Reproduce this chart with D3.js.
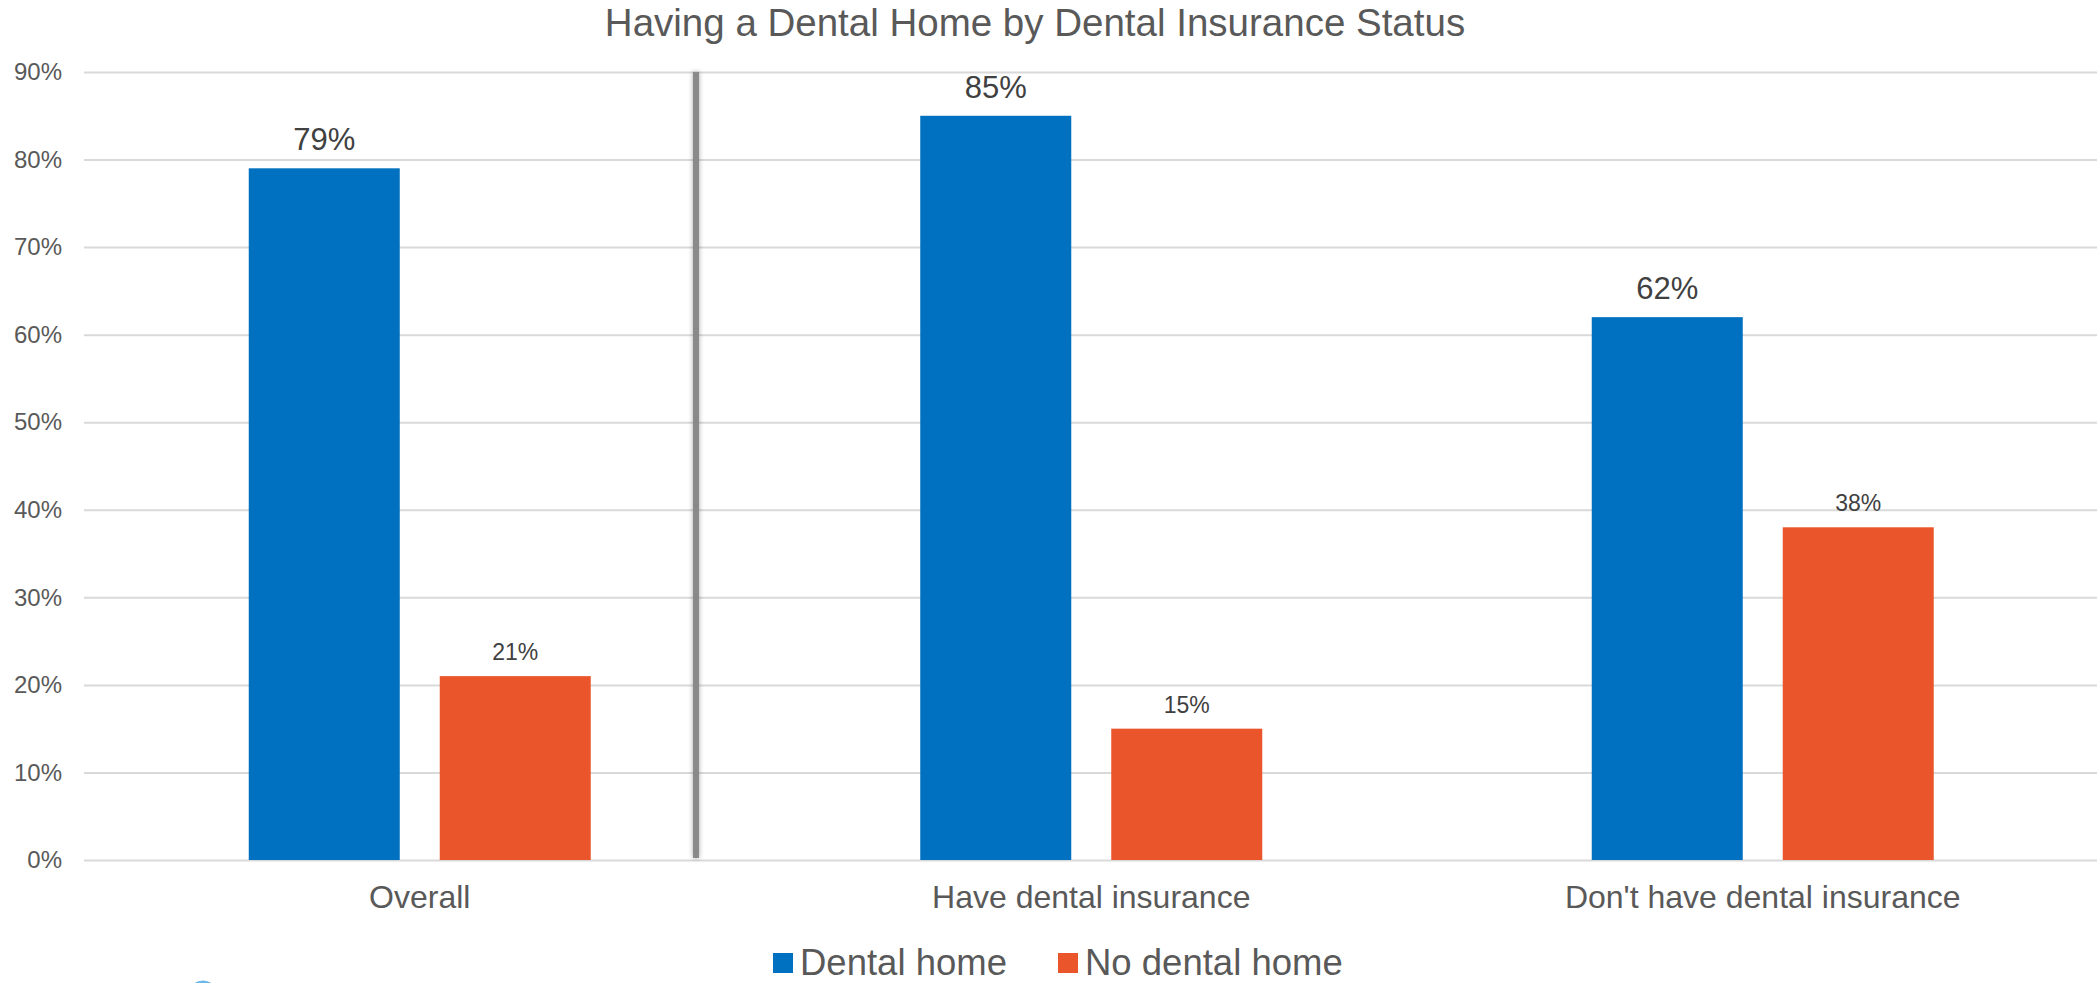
<!DOCTYPE html>
<html>
<head>
<meta charset="utf-8">
<script src="https://cdn.jsdelivr.net/npm/d3@7/dist/d3.min.js"></script>
<style>
  html, body { margin: 0; padding: 0; background: #ffffff; }
  svg { display: block; font-family: "Liberation Sans", Arial, sans-serif; }
</style>
</head>
<body>
<svg id="chart" width="2097" height="983"></svg>
<script>
// Chart data
const categories = ["Overall", "Have dental insurance", "Don't have dental insurance"];
const seriesNames = ["Dental home", "No dental home"];
const dentalHome = [0.79, 0.85, 0.62];
const noDentalHome = [0.21, 0.15, 0.38];
const yTicks = [0, 0.1, 0.2, 0.3, 0.4, 0.5, 0.6, 0.7, 0.8, 0.9];
const colors = ["#0070C0", "#EA552B"];
const titleText = "Having a Dental Home by Dental Insurance Status";

const svg = d3.select("#chart");
const W = 2097, H = 983;
const plot = { left: 84, right: 2098.5, top: 72, bottom: 860 };

const x0 = d3.scaleBand().domain(categories).range([plot.left, plot.right]).padding(0);
const groupW = 342;
const x1 = d3.scaleBand().domain(seriesNames).range([0, groupW]).paddingInner(0.2094).paddingOuter(0);
const y = d3.scaleLinear().domain([0, 0.9]).range([plot.bottom, plot.top]);
const fmt = d3.format(".0%");

// Title
svg.append("text")
  .attr("x", 1035).attr("y", 36)
  .attr("text-anchor", "middle")
  .attr("font-size", 38.5)
  .attr("fill", "#595959")
  .text(titleText);

// Gridlines and y-axis labels
const yAxis = d3.axisLeft(y).tickValues(yTicks).tickFormat(fmt)
  .tickSize(-(W - plot.left)).tickPadding(22);
const gy = svg.append("g").attr("transform", `translate(${plot.left},0)`).call(yAxis);
gy.select(".domain").remove();
gy.selectAll(".tick line").attr("stroke", "#d9d9d9").attr("stroke-width", 2);
gy.selectAll(".tick text")
  .attr("font-size", 24)
  .attr("fill", "#595959")
  .attr("font-family", "'Liberation Sans', Arial, sans-serif");

// Soft shadow for the divider
const defs = svg.append("defs");
const f = defs.append("filter").attr("id", "soft")
  .attr("filterUnits", "userSpaceOnUse")
  .attr("x", 670).attr("y", 50).attr("width", 60).attr("height", 840);
f.append("feGaussianBlur").attr("in", "SourceAlpha").attr("stdDeviation", 2.5).attr("result", "b");
f.append("feComponentTransfer").attr("in", "b").attr("result", "s")
  .append("feFuncA").attr("type", "linear").attr("slope", 0.35);
const m = f.append("feMerge");
m.append("feMergeNode").attr("in", "s");
m.append("feMergeNode").attr("in", "SourceGraphic");

// Bars
const rows = categories.map((c, i) => ({ cat: c, vals: [dentalHome[i], noDentalHome[i]] }));
const offset = (x0.bandwidth() - groupW) / 2;
const groups = svg.append("g").selectAll("g").data(rows).join("g")
  .attr("transform", d => `translate(${x0(d.cat) + offset},0)`);

groups.selectAll("rect")
  .data(d => d.vals.map((v, j) => ({ s: seriesNames[j], v, j })))
  .join("rect")
  .attr("x", d => x1(d.s))
  .attr("y", d => y(d.v))
  .attr("width", x1.bandwidth())
  .attr("height", d => y(0) - y(d.v))
  .attr("fill", d => colors[d.j]);

// Value labels
groups.selectAll("text.val")
  .data(d => d.vals.map((v, j) => ({ s: seriesNames[j], v, j })))
  .join("text")
  .attr("class", "val")
  .attr("x", d => x1(d.s) + x1.bandwidth() / 2)
  .attr("y", d => y(d.v) - (d.j === 0 ? 18 : 16))
  .attr("text-anchor", "middle")
  .attr("font-size", d => d.j === 0 ? 31 : 23)
  .attr("fill", "#404040")
  .text(d => fmt(d.v));

// Divider between the overall group and the insurance groups
svg.append("rect")
  .attr("x", 693).attr("width", 6)
  .attr("y", y(0.9)).attr("height", y(0) - 2 - y(0.9))
  .attr("fill", "#8a8a8a")
  .attr("filter", "url(#soft)");

// Category labels
svg.append("g").selectAll("text").data(categories).join("text")
  .attr("x", d => x0(d) + x0.bandwidth() / 2)
  .attr("y", 908)
  .attr("text-anchor", "middle")
  .attr("font-size", 32)
  .attr("fill", "#595959")
  .text(d => d);

// Legend
const legendItems = [
  { name: seriesNames[0], color: colors[0], x: 773 },
  { name: seriesNames[1], color: colors[1], x: 1058 }
];
const lg = svg.append("g").selectAll("g").data(legendItems).join("g")
  .attr("transform", d => `translate(${d.x},0)`);
lg.append("rect").attr("x", 0).attr("y", 953).attr("width", 20).attr("height", 20)
  .attr("fill", d => d.color);
lg.append("text").attr("x", 27).attr("y", 975)
  .attr("font-size", 36.5).attr("fill", "#595959")
  .text(d => d.name);

// Partly visible ring at the lower left edge
svg.append("circle")
  .attr("cx", 203).attr("cy", 996).attr("r", 14)
  .attr("fill", "none").attr("stroke", "#6db8e8").attr("stroke-width", 3);
</script>
</body>
</html>
